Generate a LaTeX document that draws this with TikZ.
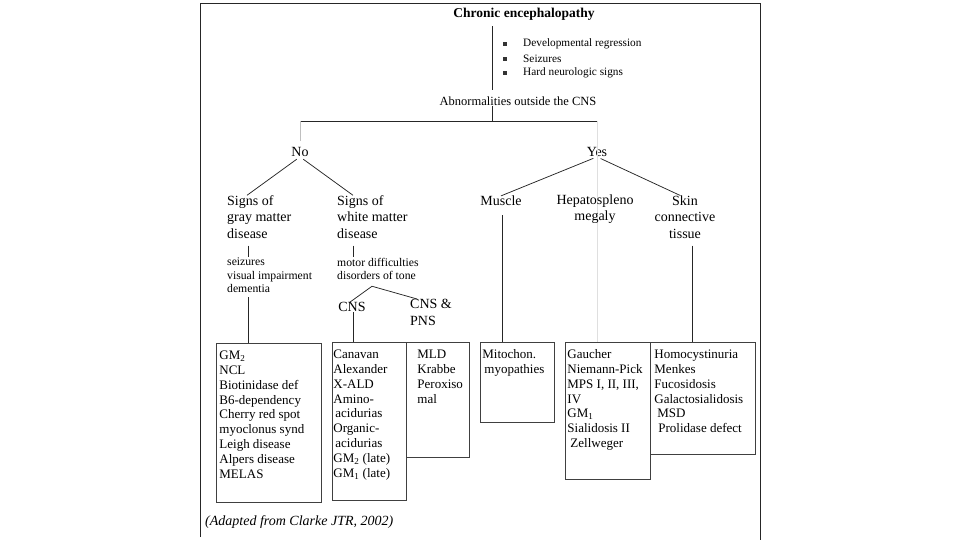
\documentclass[tikz,border=0pt]{standalone}
\usepackage{fontspec}
\setmainfont{Liberation Serif}
\newcommand{\fs}[2]{\fontsize{#1}{#2}\selectfont}
% list inside a box: indent, width, height, lines
\newcommand{\fillbox}[4]{\begin{minipage}[c][#3][t]{#2}\raggedright\leftskip=#1\relax\vspace*{6pt}\strut#4\end{minipage}}
\tikzstyle{edge} = [draw, line width=0.75pt, black!85]
\tikzstyle{faint edge} = [draw, line width=0.6pt, gray!50]
\tikzstyle{listbox} = [draw=black!75, line width=0.85pt, inner sep=0pt, anchor=north west, font=\fs{13}{14.8}]
\tikzstyle{branch} = [inner sep=0pt, font=\fs{14}{16.5}]
\tikzstyle{note} = [inner sep=0pt, font=\fs{11.7}{13.5}, anchor=north west, align=left]
\tikzstyle{bulletsq} = [rectangle, fill=black!80, minimum size=3.5pt, inner sep=0pt]

\begin{document}
\begin{tikzpicture}[x=1pt,y=-1pt]
    \useasboundingbox (0,0) rectangle (960,540);

    % The frame
    \draw[line width=0.9pt, black!85] (200,537) -- (200,3) -- (760,3) -- (760,540);

    % Top of the tree
    \node[inner sep=0pt, font=\bfseries\fs{13.5}{16}] (title) at (524,14) {Chronic encephalopathy};
    \node[inner sep=0pt, font=\fs{12.5}{15}] (abn) at (518,101) {Abnormalities outside the CNS};
    \coordinate (spine) at (492,121);

    % The signs
    \foreach \y/\txt/\name in {44/Developmental regression/dev, 59/Seizures/seiz, 73/Hard neurologic signs/hard} {
      \node[bulletsq] (\name) at (505,\y) {};
      \node[anchor=west, inner sep=0pt, font=\fs{11.3}{13}] (\name text) at (523,\y) {\txt};
    }

    \draw[edge, shorten <=6pt, shorten >=6pt] (title.south -| spine) -- (abn.north -| spine);
    \draw[edge] (abn.south -| spine) -- (spine);

    % No and yes
    \node[branch] (no) at (300,152) {No};
    \node[branch] (yes) at (597,152) {Yes};
    \draw[edge] (no |- spine) -- (yes |- spine);
    \draw[faint edge, shorten >=6pt] (no |- spine) -- (no.north);

    % The boxes
    \node[listbox] (graybox) at (216,343) {\fillbox{3pt}{105pt}{159pt}{GM\textsubscript{2}\\NCL\\Biotinidase def\\B6-dependency\\Cherry red spot\\myoclonus synd\\Leigh disease\\Alpers disease\\MELAS}};
    \node[listbox] (cnsbox) at (332,342) {\fillbox{1pt}{74pt}{158pt}{Canavan\\Alexander\\X-ALD\\Amino-\\ \hspace*{2pt}acidurias\\Organic-\\ \hspace*{2pt}acidurias\\GM\textsubscript{2} (late)\\GM\textsubscript{1} (late)}};
    \node[listbox] (pnsbox) at (406,342) {\fillbox{11pt}{63pt}{115pt}{MLD\\Krabbe\\Peroxiso\\mal}};
    \node[listbox] (mitobox) at (480,342) {\fillbox{2pt}{74pt}{80pt}{Mitochon.\\ \hspace*{2pt}myopathies}};
    \node[listbox] (hepbox) at (565,342) {\fillbox{2pt}{85pt}{137pt}{Gaucher\\Niemann-Pick\\MPS I, II, III,\\IV\\GM\textsubscript{1}\\Sialidosis II\\ \hspace*{3pt}Zellweger}};
    \node[listbox] (skinbox) at (650,342) {\fillbox{4pt}{105pt}{112pt}{Homocystinuria\\Menkes\\Fucosidosis\\Galactosialidosis\\ \hspace*{3pt}MSD\\ \hspace*{4pt}Prolidase defect}};

    \draw[faint edge, gray!25] (yes |- spine) -- (yes |- hepbox.north);

    % The no side
    \node[branch, anchor=west, align=left] (gray) at (227,217) {Signs of\\gray matter\\disease};
    \node[branch, anchor=west, align=left] (white) at (337,217) {Signs of\\white matter\\disease};
    \draw[edge, shorten <=4pt] (no.south) -- ([xshift=20pt]gray.north west);
    \draw[edge, shorten <=4pt] (no.south) -- ([xshift=16pt]white.north west);

    \node[note] (grayfx) at (227,258) {seizures\\visual impairment\\dementia};
    \node[note] (whitefx) at (337,258) {motor difficulties\\disorders of tone};
    \draw[edge, shorten <=7pt, shorten >=1pt] ([xshift=21pt]gray.south west) -- ([xshift=21pt]grayfx.north west);
    \draw[edge, shorten <=7pt, shorten >=1pt] ([xshift=16pt]white.south west) -- ([xshift=16pt]whitefx.north west);
    \draw[edge, shorten <=4pt] ([xshift=21pt]grayfx.south west) -- ([xshift=21pt]grayfx.south west |- graybox.north);

    \node[branch] (cns) at (352,307) {CNS};
    \node[branch, anchor=north west, align=left] (pns) at (410,299) {CNS \&\\PNS};
    \draw[edge] ([xshift=35pt,yshift=-6pt]whitefx.south west) -- ([xshift=-2pt]cns.north);
    \draw[edge] ([xshift=35pt,yshift=-6pt]whitefx.south west) -- ([xshift=7pt]pns.north west);
    \draw[edge] ([xshift=1pt]cns.south) -- ([xshift=1pt]cns.south |- cnsbox.north);

    % The yes side
    \node[branch] (muscle) at (501,201) {Muscle};
    \node[branch, align=center] (hep) at (595,209) {Hepatospleno\\megaly};
    \node[branch, align=center] (skin) at (685,217) {Skin\\connective\\tissue};
    \draw[edge, shorten <=4pt] (yes.south) -- (muscle.north);
    \draw[edge, shorten <=4pt] (yes.south) -- ([xshift=-5pt]skin.north);
    \draw[edge, shorten <=9pt] ([xshift=1pt]muscle.south) -- ([xshift=1pt]muscle.south |- mitobox.north);
    \draw[edge, shorten <=7pt] ([xshift=7pt]skin.south) -- ([xshift=7pt]skin.south |- skinbox.north);

    % The source
    \node[anchor=west, inner sep=0pt, font=\itshape\fs{14}{16}] (source) at (205,522) {(Adapted from Clarke JTR, 2002)};
\end{tikzpicture}
\end{document}
